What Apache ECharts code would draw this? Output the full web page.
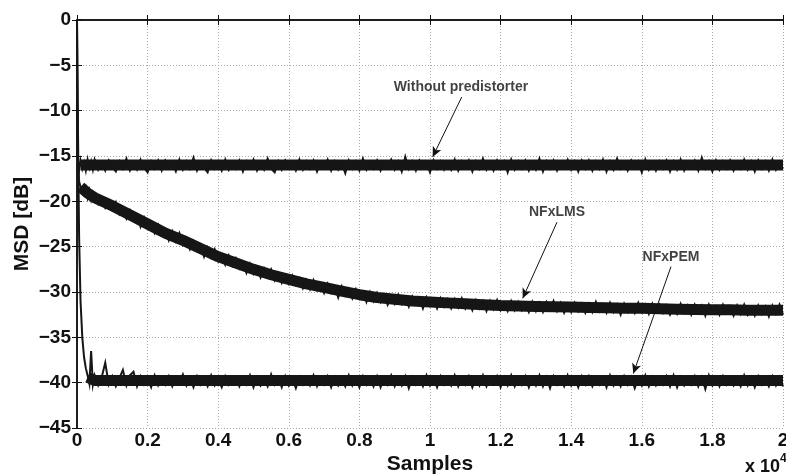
<!DOCTYPE html>
<html>
<head>
<meta charset="utf-8">
<script src="https://cdn.jsdelivr.net/npm/echarts@6/dist/echarts.min.js"></script>
<style>
html,body{margin:0;padding:0;background:#fff;overflow:hidden;}
#chart{width:786px;height:475px;}
</style>
</head>
<body>
<div id="chart"></div>
<script>
// ---- sample positions (samples) ----
const X = [0, 10, 30, 60, 100, 150, 200, 250, 300, 350, 400, 450];
for (let s = 500; s <= 20000; s += 100) X.push(s);

// ---- MSD traces [dB] (noisy) ----
const withoutPD = [0, -9, -15.6, -16.5, -15.5, -16.4, -15.7, -16.6, -15.4, -16.3, -15.6, -16.5,
  -15.4,-16.5,-15.7,-16.6,-15.5,-16.2,-16.7,-15.6,-16.4,-15.3,-16.6,-15.8,-16.5,-15.4,-16.3,-16.8,-15.6,-16.4,-15.5,-16.6,
  -15.5,-16.3,-15.8,-16.7,-15.4,-16.5,-15.6,-16.4,-15.2,-16.6,-15.7,-16.3,-16.8,-15.5,-16.4,-15.6,-16.6,-15.4,-16.5,-15.7,
  -16.4,-15.5,-16.7,-15.6,-16.3,-15.4,-16.6,-15.7,-16.5,-15.3,-16.4,-16.8,-15.6,-16.5,-15.5,-16.3,-15.7,-16.6,-15.4,-16.5,
  -15.6,-16.4,-15.5,-16.7,-15.7,-16.3,-15.4,-16.6,-15.6,-16.5,-15.8,-16.9,-15.5,-16.4,-15.6,-16.6,-15.3,-16.5,-15.7,-16.4,
  -15.5,-16.6,-15.7,-16.3,-15.4,-16.5,-15.6,-16.7,-15.1,-16.4,-15.6,-16.6,-15.5,-16.3,-15.7,-16.8,-15.5,-16.4,-15.6,-16.5,
  -15.7,-16.5,-15.4,-16.6,-15.6,-16.3,-15.5,-16.7,-15.6,-16.4,-15.3,-16.5,-15.7,-16.6,-15.5,-16.4,-15.6,-16.8,-15.4,-16.5,
  -15.6,-16.4,-15.5,-16.6,-15.7,-16.5,-15.3,-16.7,-15.6,-16.4,-15.5,-16.6,-15.7,-16.3,-15.4,-16.5,-15.6,-16.7,-15.5,-16.4,
  -15.5,-16.6,-15.6,-16.4,-15.4,-16.7,-15.6,-16.5,-15.3,-16.4,-15.7,-16.6,-15.5,-16.3,-15.6,-16.8,-15.4,-16.5,-15.7,-16.6,
  -15.6,-16.4,-15.5,-16.7,-15.6,-16.5,-15.4,-16.6,-15.7,-16.3,-15.5,-16.6,-15.2,-16.4,-15.6,-16.7,-15.5,-16.5,-15.6,-16.4,
  -15.5,-16.6,-15.7,-16.4,-15.4,-16.5,-15.6,-16.7,-15.5,-16.4,-15.6,-16.6,-15.4,-16.5,-15.7,-16.4];

const nfxlms = [0, -9, -15.5, -17.8, -18.4, -18.2, -19.2, -18.5, -19.6, -18.8, -19.8, -19.0,
  -19.1,-20.3,-19.7,-20.7,-19.9,-20.9,-20.1,-21.4,-20.8,-21.9,-21.0,-22.0,-21.5,-22.8,-21.8,-22.9,-22.4,-23.5,-22.6,-23.7,
  -23.1,-24.3,-23.3,-24.4,-23.5,-24.8,-24.2,-25.3,-24.4,-25.4,-24.8,-26.1,-25.1,-26.2,-25.3,-26.6,-26.0,-27.0,-26.0,-27.1,
  -26.3,-27.4,-26.8,-27.9,-26.9,-28.0,-27.3,-28.4,-27.4,-28.3,-27.5,-28.7,-27.9,-29.0,-28.2,-29.1,-28.2,-29.2,-28.5,-29.6,
  -28.7,-29.7,-28.7,-29.8,-29.1,-30.1,-29.1,-30.1,-29.4,-30.6,-29.4,-30.4,-29.8,-30.7,-29.7,-30.7,-30.0,-31.1,-30.0,-31.0,
  -30.1,-31.1,-30.3,-31.4,-30.5,-31.3,-30.3,-31.3,-30.6,-31.6,-30.5,-31.3,-30.7,-31.8,-30.6,-31.5,-30.8,-31.8,-30.7,-31.6,
  -30.8,-31.8,-30.8,-31.7,-30.7,-31.8,-31.0,-32.0,-30.9,-31.8,-31.0,-32.1,-31.0,-31.9,-30.9,-32.0,-31.2,-32.1,-31.0,-32.0,
  -31.1,-32.0,-31.3,-32.2,-31.1,-32.1,-31.2,-32.2,-31.1,-31.9,-31.0,-32.1,-31.2,-32.3,-31.4,-32.2,-31.2,-32.1,-31.3,-32.3,
  -31.3,-32.2,-31.1,-32.1,-31.4,-32.3,-31.2,-32.2,-31.4,-32.5,-31.3,-32.2,-31.5,-32.3,-31.2,-32.2,-31.4,-32.4,-31.3,-32.2,
  -31.4,-32.3,-31.5,-32.5,-31.6,-32.4,-31.3,-32.3,-31.5,-32.5,-31.4,-32.2,-31.5,-32.6,-31.4,-32.3,-31.6,-32.5,-31.4,-32.3,
  -31.6,-32.6,-31.5,-32.4,-31.4,-32.5,-31.7,-32.6,-31.5,-32.4,-31.6,-32.7,-31.5,-32.4,-31.4,-32.5];

const nfxpem = [0, -5, -13, -24, -31, -35, -37.2, -38.4, -39.2, -40.1, -36.5, -40.2,
  -39.2,-40.3,-39.4,-37.8,-40.2,-39.3,-40.4,-39.5,-38.6,-40.3,-39.2,-38.8,-40.4,-39.3,-40.2,-39.5,-40.5,-39.2,-40.3,-39.4,
  -40.2,-39.3,-40.4,-39.5,-40.1,-39.1,-40.3,-39.4,-40.5,-39.3,-40.2,-39.5,-40.4,-39.2,-40.3,-39.6,-40.5,-39.3,-40.2,-39.4,
  -39.3,-40.4,-39.5,-40.2,-39.2,-40.5,-39.4,-40.3,-39.6,-40.4,-39.1,-40.2,-39.4,-40.5,-39.3,-40.3,-39.5,-40.6,-39.4,-40.2,
  -39.4,-40.3,-39.2,-40.4,-39.5,-40.2,-39.3,-40.5,-39.4,-40.3,-39.6,-40.4,-39.2,-40.3,-39.5,-40.5,-39.3,-40.2,-39.4,-40.4,
  -39.3,-40.5,-39.4,-40.2,-39.2,-40.4,-39.5,-40.3,-39.3,-40.6,-39.4,-40.2,-39.5,-40.4,-39.2,-40.3,-39.4,-40.5,-39.3,-40.2,
  -39.5,-40.3,-39.2,-40.4,-39.4,-40.2,-39.3,-40.5,-39.5,-40.3,-39.2,-40.4,-39.6,-40.2,-39.3,-40.5,-39.4,-40.3,-39.2,-40.4,
  -39.4,-40.2,-39.3,-40.5,-39.5,-40.3,-39.2,-40.4,-39.4,-40.6,-39.3,-40.2,-39.5,-40.4,-39.2,-40.3,-39.4,-40.5,-39.3,-40.2,
  -39.3,-40.4,-39.5,-40.2,-39.4,-40.5,-39.2,-40.3,-39.5,-40.4,-39.3,-40.2,-39.4,-40.6,-39.5,-40.3,-39.2,-40.4,-39.4,-40.3,
  -39.5,-40.2,-39.3,-40.4,-39.2,-40.5,-39.4,-40.3,-39.5,-40.2,-39.3,-40.4,-39.4,-40.7,-39.2,-40.3,-39.5,-40.4,-39.3,-40.2,
  -39.4,-40.3,-39.5,-40.4,-39.2,-40.3,-39.4,-40.5,-39.3,-40.2,-39.5,-40.4,-39.3,-40.3,-39.4,-40.4];

// ---- dense core of each noise band (band centre) ----
const coreX = [100, 300, 500, 1000, 1500, 2000, 2500, 3000, 3500, 4000, 4500, 5000, 5500, 6000, 6500, 7000,
  7500, 8000, 8500, 9000, 9500, 10000, 10500, 11000, 11500, 12000, 12500, 13000, 13500, 14000, 14500,
  15000, 15500, 16000, 16500, 17000, 17500, 18000, 18500, 19000, 19500, 20000];
const coreWithout = [-16.0, -16.0, -16.0, -16.0, -16.0, -16.0, -16.0, -16.0, -16.0, -16.0, -16.0, -16.0, -16.0, -16.0,
  -16.0, -16.0, -16.0, -16.0, -16.0, -16.0, -16.0, -16.0, -16.0, -16.0, -16.0, -16.0, -16.0, -16.0, -16.0, -16.0,
  -16.0, -16.0, -16.0, -16.0, -16.0, -16.0, -16.0, -16.0, -16.0, -16.0, -16.0, -16.0];
const coreLms = [-18.4, -19.1, -19.6, -20.5, -21.5, -22.5, -23.5, -24.3, -25.2, -26.1, -26.8, -27.5, -28.1, -28.6,
  -29.1, -29.5, -29.9, -30.3, -30.6, -30.8, -31.0, -31.1, -31.2, -31.3, -31.4, -31.5, -31.55, -31.6, -31.63, -31.65,
  -31.7, -31.75, -31.78, -31.8, -31.85, -31.9, -31.92, -31.95, -31.97, -32.0, -32.0, -32.0];
const corePem = [null, -39.4, -39.75, -39.75, -39.75, -39.75, -39.75, -39.75, -39.75, -39.75, -39.75, -39.75, -39.75,
  -39.75, -39.75, -39.75, -39.75, -39.75, -39.75, -39.75, -39.75, -39.75, -39.75, -39.75, -39.75, -39.75, -39.75,
  -39.75, -39.75, -39.75, -39.75, -39.75, -39.75, -39.75, -39.75, -39.75, -39.75, -39.75, -39.75, -39.75, -39.75, -39.75];

// ---- tick labels ----
const xTickLabels = ['0','0.2','0.4','0.6','0.8','1','1.2','1.4','1.6','1.8','2'];
const yTickLabels = ['\u221245','\u221240','\u221235','\u221230','\u221225','\u221220','\u221215','\u221210','\u22125','0'];

// ---- annotations (data coordinates) ----
const annText = ['Without predistorter', 'NFxLMS', 'NFxPEM'];
const annTextPos = [[10878, -7.4], [13598, -21.2], [16827, -26.2]];
const arrowFrom = [[10898, -8.5], [13598, -22.3], [16827, -27.2]];
const arrowTo = [[10076, -15.1], [12626, -30.7], [15759, -39.0]];

const FONT = "'Liberation Sans', Arial, Helvetica, sans-serif";
const INK = '#161616';

const pair = (xs, ys) => ys.map((y, i) => [xs[i], y]);

const series = [];
[coreWithout, coreLms, corePem].forEach(c => {
  series.push({
    type: 'line', silent: true, showSymbol: false, z: 2, connectNulls: false,
    data: pair(coreX, c),
    lineStyle: { color: INK, width: 11, cap: 'butt', join: 'round' }
  });
});
[withoutPD, nfxlms, nfxpem].forEach(c => {
  series.push({
    type: 'line', silent: true, showSymbol: false, z: 3,
    data: pair(X, c),
    lineStyle: { color: INK, width: 2, join: 'miter' }
  });
});

series.push({
  type: 'scatter', silent: true, z: 5,
  symbolSize: 1, itemStyle: { color: 'rgba(0,0,0,0)' },
  data: annText.map((t, i) => ({ value: annTextPos[i], name: t })),
  label: {
    show: true, position: 'inside', formatter: p => p.name,
    fontFamily: FONT, fontWeight: 'bold', fontSize: 14, color: '#111'
  },
  markLine: {
    silent: true, symbol: ['none', 'arrow'], symbolSize: [7, 10],
    label: { show: false },
    lineStyle: { color: '#111', width: 1, type: 'solid' },
    data: arrowFrom.map((f, i) => [{ coord: f }, { coord: arrowTo[i] }])
  }
});

const axisLineStyle = { lineStyle: { color: '#111', width: 1.5 } };
const tickStyle = { inside: true, length: 5, lineStyle: { color: '#111', width: 1 } };
const gridLine = { show: true, lineStyle: { color: '#aaa', width: 1, type: [1, 2] } };

const option = {
  animation: false,
  backgroundColor: '#fff',
  grid: { left: 77, right: 3, top: 20, bottom: 47, containLabel: false, outerBoundsMode: 'none' },
  xAxis: [{
    type: 'value', min: 0, max: 20000, interval: 2000,
    name: 'Samples', nameLocation: 'middle', nameGap: 26, nameMoveOverlap: false,
    nameTextStyle: { fontFamily: FONT, fontWeight: 'bold', fontSize: 21, color: '#111' },
    axisLine: axisLineStyle, axisTick: tickStyle,
    axisLabel: {
      margin: 3, fontFamily: FONT, fontWeight: 'bold', fontSize: 19, color: '#111',
      hideOverlap: false,
      formatter: v => xTickLabels[Math.round(v / 2000)]
    },
    splitLine: gridLine
  }, {
    type: 'value', position: 'top', min: 0, max: 20000, interval: 2000,
    axisLine: axisLineStyle, axisTick: tickStyle,
    axisLabel: { show: false }, splitLine: { show: false }
  }],
  yAxis: [{
    type: 'value', min: -45, max: 0, interval: 5,
    name: 'MSD [dB]', nameLocation: 'middle', nameGap: 44, nameMoveOverlap: false,
    nameTextStyle: { fontFamily: FONT, fontWeight: 'bold', fontSize: 21, color: '#111' },
    axisLine: axisLineStyle, axisTick: tickStyle,
    axisLabel: {
      margin: 6, fontFamily: FONT, fontWeight: 'bold', fontSize: 19, color: '#111',
      formatter: v => yTickLabels[Math.round((v + 45) / 5)]
    },
    splitLine: gridLine
  }, {
    type: 'value', position: 'right', min: -45, max: 0, interval: 5,
    axisLine: axisLineStyle, axisTick: tickStyle,
    axisLabel: { show: false }, splitLine: { show: false }
  }],
  series: series,
  graphic: [
    { type: 'text', x: 780, y: 467.5, z: 10,
      style: { text: 'x 10', align: 'right', verticalAlign: 'middle',
               font: "bold 18px " + FONT, fill: '#111' } },
    { type: 'text', x: 780, y: 458.5, z: 10,
      style: { text: '4', align: 'left', verticalAlign: 'middle',
               font: "bold 12px " + FONT, fill: '#111' } }
  ]
};

const chart = echarts.init(document.getElementById('chart'), null, { renderer: 'canvas' });
chart.setOption(option);
</script>
</body>
</html>
